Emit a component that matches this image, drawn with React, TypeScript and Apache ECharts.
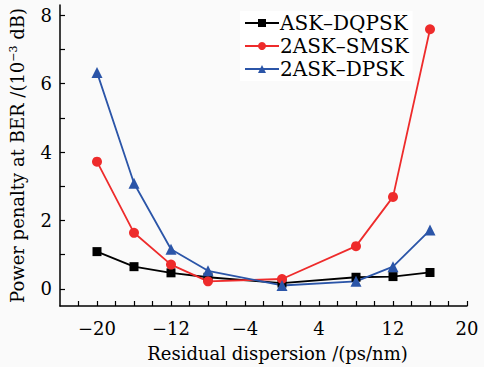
import React, { useEffect, useRef } from "react";
import * as echarts from "echarts";

const xValues = [-20, -16, -12, -8, 0, 8, 12, 16];
const askDqpsk = [1.09, 0.65, 0.47, 0.34, 0.17, 0.34, 0.36, 0.48];
const askSmsk = [3.72, 1.64, 0.71, 0.22, 0.29, 1.25, 2.69, 7.59];
const askDpsk = [6.33, 3.09, 1.16, 0.53, 0.1, 0.22, 0.65, 1.72];
const seriesNames = ["ASK\u2013DQPSK", "2ASK\u2013SMSK", "2ASK\u2013DPSK"];
const xLabels = [-20, -12, -4, 4, 12, 20];
const xTicks = [-22, -20, -18, -16, -14, -12, -10, -8, -6, -4, -2, 0, 2, 4, 6, 8, 10, 12, 14, 16, 18, 20];
const yLabels = [0, 2, 4, 6, 8];
const yTicks = [0, 1, 2, 3, 4, 5, 6, 7, 8];

const FONT = "DejaVu Serif";

export default function App() {
  const ref = useRef<HTMLDivElement>(null);
  useEffect(() => {
    const chart = echarts.init(ref.current!, null, { renderer: "svg" });
    const mk = (vals: number[]) => xValues.map((x, i) => [x, vals[i]]);
    const colors = ["#000000", "#ee2b2b", "#2b55a8"];
    const symbols = ["rect", "circle", "triangle"];
    const sizes = [9, 10, 11];
    const data = [askDqpsk, askSmsk, askDpsk];
    chart.setOption({
      animation: false,
      backgroundColor: "#fafafa",
      textStyle: { fontFamily: FONT },
      grid: { left: 57, right: 17, top: 5, bottom: 59 },
      legend: {
        orient: "vertical",
        left: 240,
        top: 11,
        itemWidth: 34,
        itemHeight: 10,
        itemGap: 3,
        backgroundColor: "#ffffff",
        padding: [2, 4, 2, 4],
        textStyle: { fontFamily: FONT, fontSize: 20, color: "#000", padding: [0, 0, 0, -4] },
        data: seriesNames,
      },
      xAxis: {
        type: "value",
        min: -24,
        max: 20,
        interval: 2,
        name: "Residual dispersion /(ps/nm)",
        nameLocation: "middle",
        nameGap: 38,
        nameTextStyle: { fontFamily: FONT, fontSize: 18, color: "#000", padding: [0, 0, 0, 28] },
        axisLine: { onZero: false, lineStyle: { color: "#000", width: 1.5 } },
        axisTick: { inside: true, length: 5, customValues: xTicks, lineStyle: { color: "#000", width: 1.2 } },
        axisLabel: {
          customValues: xLabels,
          formatter: (v: number) => (v < 0 ? "\u2212" + Math.abs(v) : String(v)),
          fontFamily: FONT,
          fontSize: 18,
          color: "#000",
          margin: 13,
        },
        splitLine: { show: false },
      },
      yAxis: {
        type: "value",
        min: -0.5,
        max: 8.3,
        name: "{a|Power penalty at BER /(10}{s|\u22123}{a| dB)}",
        nameLocation: "middle",
        nameGap: 33,
        nameRotate: 90,
        nameTextStyle: {
          rich: {
            a: { fontFamily: FONT, fontSize: 18, color: "#000" },
            s: { fontFamily: FONT, fontSize: 11, color: "#000", verticalAlign: "top", padding: [0, 0, 8, 0] },
          },
        },
        axisLine: { show: true, onZero: false, lineStyle: { color: "#000", width: 1.5 } },
        axisTick: { show: true, inside: true, length: 5, customValues: yTicks, lineStyle: { color: "#000", width: 1.2 } },
        axisLabel: {
          customValues: yLabels,
          fontFamily: FONT,
          fontSize: 18,
          color: "#000",
          margin: 8,
        },
        splitLine: { show: false },
      },
      series: seriesNames.map((name, i) => ({
        name,
        type: "line",
        data: mk(data[i]),
        symbol: symbols[i],
        symbolSize: sizes[i],
        color: colors[i],
        lineStyle: { color: colors[i], width: 1.8 },
        itemStyle: { color: colors[i] },
      })),
    });
    return () => chart.dispose();
  }, []);
  return (
    <div
      ref={ref}
      style={{ position: "absolute", left: 0, top: 0, width: 484, height: 367 }}
    />
  );
}
